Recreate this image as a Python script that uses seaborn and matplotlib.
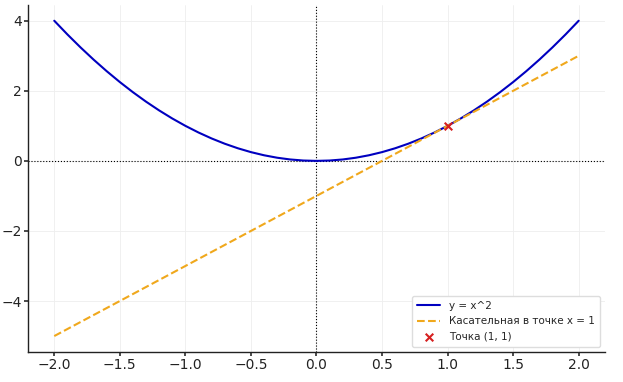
import matplotlib
matplotlib.use("Agg")
import matplotlib.pyplot as plt
import seaborn as sns
from pandas import DataFrame

sns.set_theme(style="whitegrid")
plt.rcParams["font.family"] = ["DejaVu Sans"]

# parabola
curveX = [-2.0, -1.9, -1.8, -1.7, -1.6, -1.5, -1.4, -1.3, -1.2, -1.1, -1.0,
          -0.9, -0.8, -0.7, -0.6, -0.5, -0.4, -0.3, -0.2, -0.1, 0.0,
          0.1, 0.2, 0.3, 0.4, 0.5, 0.6, 0.7, 0.8, 0.9, 1.0,
          1.1, 1.2, 1.3, 1.4, 1.5, 1.6, 1.7, 1.8, 1.9, 2.0]
curveY = [4.0, 3.61, 3.24, 2.89, 2.56, 2.25, 1.96, 1.69, 1.44, 1.21, 1.0,
          0.81, 0.64, 0.49, 0.36, 0.25, 0.16, 0.09, 0.04, 0.01, 0.0,
          0.01, 0.04, 0.09, 0.16, 0.25, 0.36, 0.49, 0.64, 0.81, 1.0,
          1.21, 1.44, 1.69, 1.96, 2.25, 2.56, 2.89, 3.24, 3.61, 4.0]
# tangent line ends
tangentX = [-2.0, 2.0]
tangentY = [-5.0, 3.0]
# point of tangency
pointX = [1.0]
pointY = [1.0]

fig = plt.figure(figsize=(6.23, 3.82), dpi=100)
ax = fig.add_axes([0.045, 0.079, 0.926, 0.908])

dfCurve = DataFrame({"x": curveX, "y": curveY})
dfTangent = DataFrame({"x": tangentX, "y": tangentY})
dfPoint = DataFrame({"x": pointX, "y": pointY})

ax.axhline(0, color="black", linewidth=0.8, linestyle=":", zorder=1)
ax.axvline(0, color="black", linewidth=0.8, linestyle=":", zorder=1)
sns.lineplot(x="x", y="y", data=dfCurve, ax=ax, color="#0000c0",
             linewidth=1.5, label="y = x^2")
sns.lineplot(x="x", y="y", data=dfTangent, ax=ax, color="#f0a81c",
             linewidth=1.5, linestyle="--", label="Касательная в точке x = 1")
sns.scatterplot(x="x", y="y", data=dfPoint, ax=ax, color="#d62020",
                marker="x", s=30, linewidth=1.5, label="Точка (1, 1)", zorder=5)

ax.set_xlabel("")
ax.set_ylabel("")
ax.set_xticks([-2.0, -1.5, -1.0, -0.5, 0.0, 0.5, 1.0, 1.5, 2.0])
ax.set_yticks([-4, -2, 0, 2, 4])
ax.tick_params(axis="both", labelsize=10, length=3, color="#333333",
               labelcolor="#222222", bottom=True, left=True, pad=1.5)
ax.grid(True, color="#eeeeee", linewidth=0.6)
for side in ["top", "right"]:
    ax.spines[side].set_visible(False)
for side in ["left", "bottom"]:
    ax.spines[side].set_color("#222222")
    ax.spines[side].set_linewidth(1.0)
ax.set_facecolor("white")

ax.legend(loc="lower right", fontsize=7.5, frameon=True, framealpha=1,
          edgecolor="#dddddd", borderpad=0.5, handlelength=2.2)

fig.savefig("out.png", dpi=100)
